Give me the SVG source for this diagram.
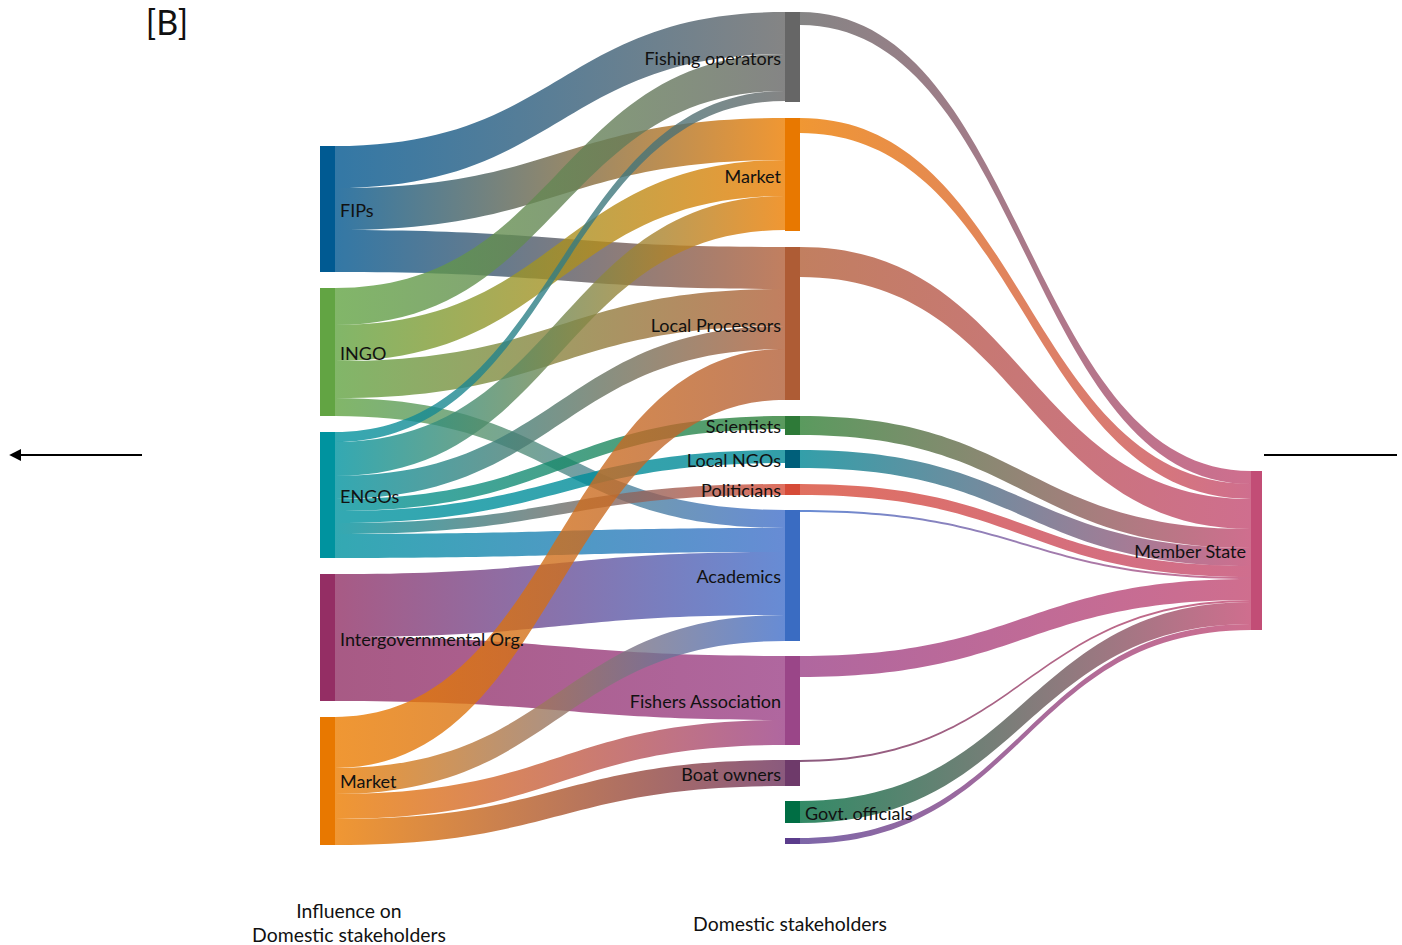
<svg xmlns="http://www.w3.org/2000/svg" width="1402" height="945" viewBox="0 0 1402 945">
<style>
.lk{fill-opacity:0.8}
.lbl{font-family:Lato,"Open Sans","Liberation Sans",sans-serif;font-size:18px;fill:#111}
.end{text-anchor:end}
.ax{font-family:Lato,"Open Sans","Liberation Sans",sans-serif;font-size:19.4px;fill:#111;text-anchor:middle}
</style>
<defs>
<marker id="ah" viewBox="0 0 10 10" refX="1" refY="5" markerWidth="6" markerHeight="6" orient="auto-start-reverse" markerUnits="strokeWidth"><path d="M0,0 L10,5 L0,10 z" fill="#000"/></marker>
<linearGradient id="g1" gradientUnits="userSpaceOnUse" x1="335" y1="0" x2="785" y2="0"><stop offset="0" stop-color="#00568f"/><stop offset="1" stop-color="#666666"/></linearGradient>
<linearGradient id="g2" gradientUnits="userSpaceOnUse" x1="335" y1="0" x2="785" y2="0"><stop offset="0" stop-color="#00568f"/><stop offset="1" stop-color="#ec7d00"/></linearGradient>
<linearGradient id="g3" gradientUnits="userSpaceOnUse" x1="335" y1="0" x2="785" y2="0"><stop offset="0" stop-color="#00568f"/><stop offset="1" stop-color="#b25f38"/></linearGradient>
<linearGradient id="g4" gradientUnits="userSpaceOnUse" x1="335" y1="0" x2="785" y2="0"><stop offset="0" stop-color="#62a443"/><stop offset="1" stop-color="#666666"/></linearGradient>
<linearGradient id="g5" gradientUnits="userSpaceOnUse" x1="335" y1="0" x2="785" y2="0"><stop offset="0" stop-color="#62a443"/><stop offset="1" stop-color="#ec7d00"/></linearGradient>
<linearGradient id="g6" gradientUnits="userSpaceOnUse" x1="335" y1="0" x2="785" y2="0"><stop offset="0" stop-color="#62a443"/><stop offset="1" stop-color="#b25f38"/></linearGradient>
<linearGradient id="g7" gradientUnits="userSpaceOnUse" x1="335" y1="0" x2="785" y2="0"><stop offset="0" stop-color="#62a443"/><stop offset="1" stop-color="#416fca"/></linearGradient>
<linearGradient id="g8" gradientUnits="userSpaceOnUse" x1="335" y1="0" x2="785" y2="0"><stop offset="0" stop-color="#00939f"/><stop offset="1" stop-color="#666666"/></linearGradient>
<linearGradient id="g9" gradientUnits="userSpaceOnUse" x1="335" y1="0" x2="785" y2="0"><stop offset="0" stop-color="#00939f"/><stop offset="1" stop-color="#ec7d00"/></linearGradient>
<linearGradient id="g10" gradientUnits="userSpaceOnUse" x1="335" y1="0" x2="785" y2="0"><stop offset="0" stop-color="#00939f"/><stop offset="1" stop-color="#b25f38"/></linearGradient>
<linearGradient id="g11" gradientUnits="userSpaceOnUse" x1="335" y1="0" x2="785" y2="0"><stop offset="0" stop-color="#00939f"/><stop offset="1" stop-color="#318136"/></linearGradient>
<linearGradient id="g12" gradientUnits="userSpaceOnUse" x1="335" y1="0" x2="785" y2="0"><stop offset="0" stop-color="#00939f"/><stop offset="1" stop-color="#008794"/></linearGradient>
<linearGradient id="g13" gradientUnits="userSpaceOnUse" x1="335" y1="0" x2="785" y2="0"><stop offset="0" stop-color="#00939f"/><stop offset="1" stop-color="#d84c38"/></linearGradient>
<linearGradient id="g14" gradientUnits="userSpaceOnUse" x1="335" y1="0" x2="785" y2="0"><stop offset="0" stop-color="#00939f"/><stop offset="1" stop-color="#416fca"/></linearGradient>
<linearGradient id="g15" gradientUnits="userSpaceOnUse" x1="335" y1="0" x2="785" y2="0"><stop offset="0" stop-color="#923166"/><stop offset="1" stop-color="#416fca"/></linearGradient>
<linearGradient id="g16" gradientUnits="userSpaceOnUse" x1="335" y1="0" x2="785" y2="0"><stop offset="0" stop-color="#923166"/><stop offset="1" stop-color="#9c4187"/></linearGradient>
<linearGradient id="g17" gradientUnits="userSpaceOnUse" x1="335" y1="0" x2="785" y2="0"><stop offset="0" stop-color="#ec7d00"/><stop offset="1" stop-color="#b25f38"/></linearGradient>
<linearGradient id="g18" gradientUnits="userSpaceOnUse" x1="335" y1="0" x2="785" y2="0"><stop offset="0" stop-color="#ec7d00"/><stop offset="1" stop-color="#416fca"/></linearGradient>
<linearGradient id="g19" gradientUnits="userSpaceOnUse" x1="335" y1="0" x2="785" y2="0"><stop offset="0" stop-color="#ec7d00"/><stop offset="1" stop-color="#9c4187"/></linearGradient>
<linearGradient id="g20" gradientUnits="userSpaceOnUse" x1="335" y1="0" x2="785" y2="0"><stop offset="0" stop-color="#ec7d00"/><stop offset="1" stop-color="#6d315d"/></linearGradient>
<linearGradient id="r1" gradientUnits="userSpaceOnUse" x1="800" y1="0" x2="1251" y2="0"><stop offset="0" stop-color="#666666"/><stop offset="1" stop-color="#c34a72"/></linearGradient>
<linearGradient id="r2" gradientUnits="userSpaceOnUse" x1="800" y1="0" x2="1251" y2="0"><stop offset="0" stop-color="#ec7d00"/><stop offset="1" stop-color="#c34a72"/></linearGradient>
<linearGradient id="r3" gradientUnits="userSpaceOnUse" x1="800" y1="0" x2="1251" y2="0"><stop offset="0" stop-color="#b25f38"/><stop offset="1" stop-color="#c34a72"/></linearGradient>
<linearGradient id="r4" gradientUnits="userSpaceOnUse" x1="800" y1="0" x2="1251" y2="0"><stop offset="0" stop-color="#318136"/><stop offset="1" stop-color="#c34a72"/></linearGradient>
<linearGradient id="r5" gradientUnits="userSpaceOnUse" x1="800" y1="0" x2="1251" y2="0"><stop offset="0" stop-color="#008794"/><stop offset="1" stop-color="#c34a72"/></linearGradient>
<linearGradient id="r6" gradientUnits="userSpaceOnUse" x1="800" y1="0" x2="1251" y2="0"><stop offset="0" stop-color="#d84c38"/><stop offset="1" stop-color="#c34a72"/></linearGradient>
<linearGradient id="r7" gradientUnits="userSpaceOnUse" x1="800" y1="0" x2="1251" y2="0"><stop offset="0" stop-color="#416fca"/><stop offset="1" stop-color="#c34a72"/></linearGradient>
<linearGradient id="r8" gradientUnits="userSpaceOnUse" x1="800" y1="0" x2="1251" y2="0"><stop offset="0" stop-color="#9c4187"/><stop offset="1" stop-color="#c34a72"/></linearGradient>
<linearGradient id="r9" gradientUnits="userSpaceOnUse" x1="800" y1="0" x2="1251" y2="0"><stop offset="0" stop-color="#6d315d"/><stop offset="1" stop-color="#c34a72"/></linearGradient>
<linearGradient id="r10" gradientUnits="userSpaceOnUse" x1="800" y1="0" x2="1251" y2="0"><stop offset="0" stop-color="#006d40"/><stop offset="1" stop-color="#c34a72"/></linearGradient>
<linearGradient id="r11" gradientUnits="userSpaceOnUse" x1="800" y1="0" x2="1251" y2="0"><stop offset="0" stop-color="#5c4092"/><stop offset="1" stop-color="#c34a72"/></linearGradient>
</defs>
<rect width="1402" height="945" fill="#fff"/>
<g id="links">
<path class="lk" fill="url(#g1)" d="M335,146 C560,146 560,12 785,12 L785,54 C560,54 560,188 335,188 Z"/>
<path class="lk" fill="url(#g2)" d="M335,188 C560,188 560,118 785,118 L785,160 C560,160 560,230 335,230 Z"/>
<path class="lk" fill="url(#g3)" d="M335,230 C560,230 560,247 785,247 L785,289 C560,289 560,272 335,272 Z"/>
<path class="lk" fill="url(#g4)" d="M335,288 C560,288 560,54 785,54 L785,91 C560,91 560,325 335,325 Z"/>
<path class="lk" fill="url(#g5)" d="M335,325 C560,325 560,160 785,160 L785,196 C560,196 560,361 335,361 Z"/>
<path class="lk" fill="url(#g6)" d="M335,361 C560,361 560,289 785,289 L785,326 C560,326 560,398 335,398 Z"/>
<path class="lk" fill="url(#g7)" d="M335,398 C560,398 560,510 785,510 L785,528 C560,528 560,416 335,416 Z"/>
<path class="lk" fill="url(#g8)" d="M335,432 C560,432 560,91 785,91 L785,101 C560,101 560,442 335,442 Z"/>
<path class="lk" fill="url(#g9)" d="M335,442 C560,442 560,196 785,196 L785,230 C560,230 560,476 335,476 Z"/>
<path class="lk" fill="url(#g10)" d="M335,476 C560,476 560,326 785,326 L785,349 C560,349 560,499 335,499 Z"/>
<path class="lk" fill="url(#g11)" d="M335,499 C560,499 560,416 785,416 L785,429 C560,429 560,511 335,511 Z"/>
<path class="lk" fill="url(#g12)" d="M335,511 C560,511 560,450 785,450 L785,463 C560,463 560,523 335,523 Z"/>
<path class="lk" fill="url(#g13)" d="M335,523 C560,523 560,484 785,484 L785,495 C560,495 560,534 335,534 Z"/>
<path class="lk" fill="url(#g14)" d="M335,534 C560,534 560,528 785,528 L785,552 C560,552 560,558 335,558 Z"/>
<path class="lk" fill="url(#g15)" d="M335,574 C560,574 560,552 785,552 L785,615 C560,615 560,637 335,637 Z"/>
<path class="lk" fill="url(#g16)" d="M335,637 C560,637 560,656 785,656 L785,720 C560,720 560,701 335,701 Z"/>
<path class="lk" fill="url(#g17)" d="M335,717 C560,717 560,349 785,349 L785,400 C560,400 560,768 335,768 Z"/>
<path class="lk" fill="url(#g18)" d="M335,768 C560,768 560,615 785,615 L785,641 C560,641 560,794 335,794 Z"/>
<path class="lk" fill="url(#g19)" d="M335,794 C560,794 560,720 785,720 L785,745 C560,745 560,819 335,819 Z"/>
<path class="lk" fill="url(#g20)" d="M335,819 C560,819 560,760 785,760 L785,786 C560,786 560,845 335,845 Z"/>
<path class="lk" fill="url(#r1)" d="M800,12 C1025.5,12 1025.5,471 1251,471 L1251,484 C1025.5,484 1025.5,25 800,25 Z"/>
<path class="lk" fill="url(#r2)" d="M800,118 C1025.5,118 1025.5,484 1251,484 L1251,499 C1025.5,499 1025.5,133 800,133 Z"/>
<path class="lk" fill="url(#r3)" d="M800,247 C1025.5,247 1025.5,499 1251,499 L1251,529 C1025.5,529 1025.5,277 800,277 Z"/>
<path class="lk" fill="url(#r4)" d="M800,416 C1025.5,416 1025.5,529 1251,529 L1251,548 C1025.5,548 1025.5,435 800,435 Z"/>
<path class="lk" fill="url(#r5)" d="M800,450 C1025.5,450 1025.5,548 1251,548 L1251,566 C1025.5,566 1025.5,468 800,468 Z"/>
<path class="lk" fill="url(#r6)" d="M800,484 C1025.5,484 1025.5,566 1251,566 L1251,577 C1025.5,577 1025.5,495 800,495 Z"/>
<path class="lk" fill="url(#r7)" d="M800,510 C1025.5,510 1025.5,577 1251,577 L1251,579 C1025.5,579 1025.5,512 800,512 Z"/>
<path class="lk" fill="url(#r8)" d="M800,656 C1025.5,656 1025.5,579 1251,579 L1251,600 C1025.5,600 1025.5,677 800,677 Z"/>
<path class="lk" fill="url(#r9)" d="M800,760 C1025.5,760 1025.5,600 1251,600 L1251,602 C1025.5,602 1025.5,762 800,762 Z"/>
<path class="lk" fill="url(#r10)" d="M800,801 C1025.5,801 1025.5,602 1251,602 L1251,624 C1025.5,624 1025.5,823 800,823 Z"/>
<path class="lk" fill="url(#r11)" d="M800,838 C1025.5,838 1025.5,624 1251,624 L1251,630 C1025.5,630 1025.5,844 800,844 Z"/>
</g>
<g id="node-fips"><rect x="320" y="146" width="15" height="126" fill="#005a92"/><text class="lbl" x="340" y="217">FIPs</text></g>
<g id="node-ingo"><rect x="320" y="288" width="15" height="128" fill="#62a443"/><text class="lbl" x="340" y="360">INGO</text></g>
<g id="node-engos"><rect x="320" y="432" width="15" height="126" fill="#00939f"/><text class="lbl" x="340" y="503">ENGOs</text></g>
<g id="node-igo"><rect x="320" y="574" width="15" height="127" fill="#942e64"/><text class="lbl" x="340" y="646">Intergovernmental Org.</text></g>
<g id="node-market-left"><rect x="320" y="717" width="15" height="128" fill="#e87800"/><text class="lbl" x="340" y="788">Market</text></g>
<g id="node-fishing-operators"><rect x="785" y="12" width="15" height="90" fill="#666666"/><text class="lbl end" x="781" y="65">Fishing operators</text></g>
<g id="node-market-mid"><rect x="785" y="118" width="15" height="113" fill="#e87800"/><text class="lbl end" x="781" y="183">Market</text></g>
<g id="node-local-processors"><rect x="785" y="247" width="15" height="153" fill="#ae5c35"/><text class="lbl end" x="781" y="332">Local Processors</text></g>
<g id="node-scientists"><rect x="785" y="416" width="15" height="19" fill="#2e7a38"/><text class="lbl end" x="781" y="433">Scientists</text></g>
<g id="node-local-ngos"><rect x="785" y="450" width="15" height="18" fill="#005f7a"/><text class="lbl end" x="781" y="467">Local NGOs</text></g>
<g id="node-politicians"><rect x="785" y="484" width="15" height="11" fill="#d64b38"/><text class="lbl end" x="781" y="497">Politicians</text></g>
<g id="node-academics"><rect x="785" y="510" width="15" height="131" fill="#3a6cc2"/><text class="lbl end" x="781" y="583">Academics</text></g>
<g id="node-fishers-association"><rect x="785" y="656" width="15" height="89" fill="#9a4688"/><text class="lbl end" x="781" y="708">Fishers Association</text></g>
<g id="node-boat-owners"><rect x="785" y="760" width="15" height="26" fill="#6e3a6a"/><text class="lbl end" x="781" y="781">Boat owners</text></g>
<g id="node-govt-officials"><rect x="785" y="801" width="15" height="22" fill="#006e44"/><text class="lbl" x="805" y="820">Govt. officials</text></g>
<g id="node-other"><rect x="785" y="838" width="15" height="6" fill="#5b3c8c"/></g>
<g id="node-member-state"><rect x="1251" y="471" width="11" height="159" fill="#c24d76"/><text class="lbl end" x="1246" y="558">Member State</text></g>
<g id="labels">
<text x="167" y="35" style="font-family:Lato,'Open Sans','Liberation Sans',sans-serif;font-size:34px;fill:#111;text-anchor:middle">[B]</text>
<text class="ax" x="349" y="918">Influence on</text>
<text class="ax" x="349" y="942">Domestic stakeholders</text>
<text class="ax" x="790" y="931">Domestic stakeholders</text>
</g>
<g id="arrows" stroke="#000" stroke-width="2" fill="none">
<line x1="142" y1="455" x2="20" y2="455" marker-end="url(#ah)"/>
<line x1="1264" y1="455" x2="1397" y2="455"/>
</g>
</svg>
